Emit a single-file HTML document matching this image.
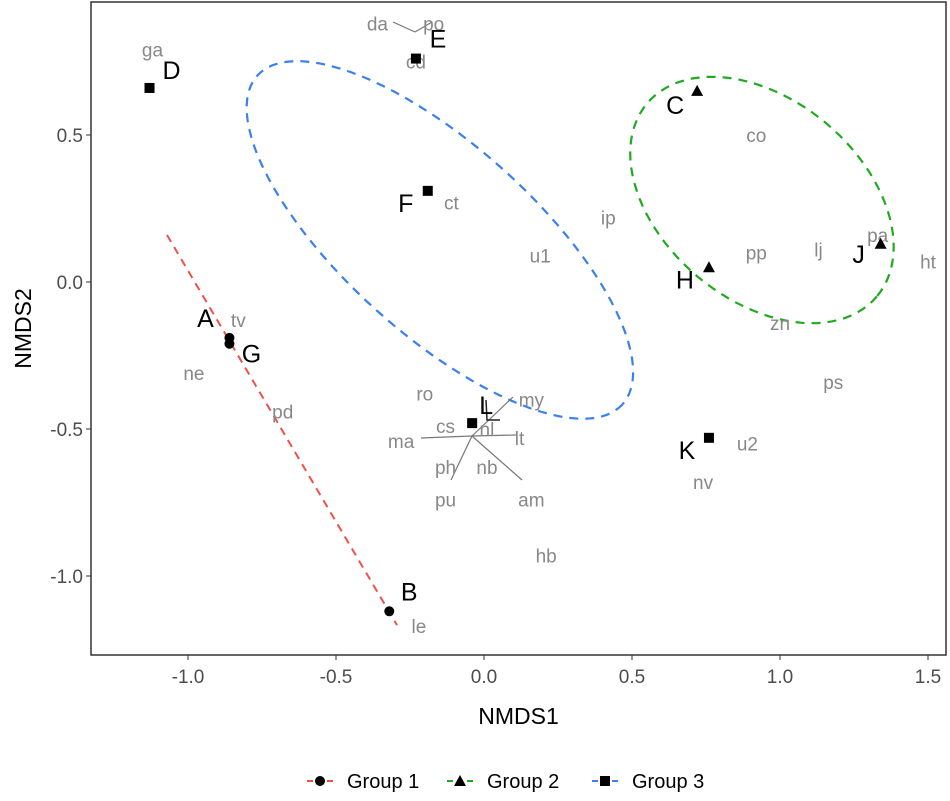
<!DOCTYPE html>
<html><head><meta charset="utf-8"><style>
body{margin:0;background:#fff;}
svg{display:block;font-family:"Liberation Sans",sans-serif;}
</style></head><body>
<svg id="chart" width="950" height="801"></svg>
<script>
const siteNames=["A","G","B","D","E","F","L","K","C","H","J"];
const siteX=[-0.86,-0.86,-0.32,-1.13,-0.23,-0.19,-0.04,0.76,0.72,0.76,1.34];
const siteY=[-0.19,-0.21,-1.12,0.66,0.76,0.31,-0.48,-0.53,0.65,0.05,0.13];
const siteGroup=[1,1,1,3,3,3,3,3,2,2,2];
const siteLabelDx=[-24,22,20,22,22,-22,14,-22,-22,-24,-22];
const siteLabelDy=[-4,26,-4,-2,-4,28,-2,28,30,28,26];
const speciesNames=["ga","da","po","cd","ct","ip","u1","co","pp","lj","pa","ht","zn","ps","u2","nv","hb","le","tv","ne","pd","ro","my","cs","nl","ma","lt","ph","nb","pu","am"];
const speciesX=[-1.12,-0.36,-0.17,-0.23,-0.11,0.42,0.19,0.92,0.92,1.13,1.33,1.50,1.00,1.18,0.89,0.74,0.21,-0.22,-0.83,-0.98,-0.68,-0.20,0.16,-0.13,0.01,-0.28,0.12,-0.13,0.01,-0.13,0.16];
const speciesY=[0.79,0.88,0.88,0.75,0.27,0.22,0.09,0.50,0.10,0.11,0.16,0.07,-0.14,-0.34,-0.55,-0.68,-0.93,-1.17,-0.13,-0.31,-0.44,-0.38,-0.40,-0.49,-0.50,-0.54,-0.53,-0.63,-0.63,-0.74,-0.74];
const groupNames=["Group 1","Group 2","Group 3"];
const xTicks=[-1.0,-0.5,0.0,0.5,1.0,1.5];
const yTicks=[0.5,0.0,-0.5,-1.0];
const redLineX=[-1.071,-0.294];
const redLineY=[0.16,-1.167];
const ellCx=[-0.149,0.939];
const ellCy=[0.143,0.279];
const ellA=[0.83,0.507];
const ellB=[0.32,0.338];
const ellAngle=[42,40];
const ellColor=["#3b7ff0","#1faa1f"];

const L=91,T=2,R=946,B=655;
const X=v=>484+v*296;
const Y=v=>282-v*294;
const svg=document.getElementById('chart');
const NS="http://www.w3.org/2000/svg";
function mk(tag,at,parent){const e=document.createElementNS(NS,tag);for(const k in at)e.setAttribute(k,at[k]);(parent||svg).appendChild(e);return e;}

let e=mk('rect',{x:L,y:T,width:R-L,height:B-T,fill:'#fff',stroke:'#333','stroke-width':1.5});



xTicks.forEach(t=>{
 let l=mk('line',{x1:X(t),x2:X(t),y1:B,y2:B+5,stroke:'#333'});
 
 
 let tx=mk('text',{x:X(t),y:B+28,'text-anchor':'middle','font-size':19,fill:'#4d4d4d'});
 tx.textContent=t.toFixed(1);
 
 
});
yTicks.forEach(t=>{
 let l=mk('line',{x1:L-5,x2:L,y1:Y(t),y2:Y(t),stroke:'#333'});
 
 
 let tx=mk('text',{x:L-8,y:Y(t)+7,'text-anchor':'end','font-size':19,fill:'#4d4d4d'});
 tx.textContent=t.toFixed(1);
 
 
});
e=mk('text',{x:(L+R)/2,y:724,'text-anchor':'middle','font-size':23,fill:'#000'});e.textContent='NMDS1';


e=mk('text',{x:31,y:(T+B)/2,'text-anchor':'middle','font-size':23,fill:'#000',transform:`rotate(-90 31 ${(T+B)/2})`});e.textContent='NMDS2';



e=mk('line',{x1:X(redLineX[0]),y1:Y(redLineY[0]),x2:X(redLineX[1]),y2:Y(redLineY[1]),stroke:'#f0504a','stroke-width':2,'stroke-dasharray':'8,6'});


for(let i=0;i<2;i++){
 const cx=X(ellCx[i]),cy=Y(ellCy[i]),a=ellA[i]*296,b=ellB[i]*296,ang=ellAngle[i]*Math.PI/180;
 let d='';
 for(let k=0;k<=100;k++){const t=k/100*2*Math.PI;
  const px=cx+a*Math.cos(t)*Math.cos(ang)-b*Math.sin(t)*Math.sin(ang);
  const py=cy+a*Math.cos(t)*Math.sin(ang)+b*Math.sin(t)*Math.cos(ang);
  d+=(k?'L':'M')+px.toFixed(1)+','+py.toFixed(1);}
 e=mk('path',{d:d,fill:'none',stroke:ellColor[i],'stroke-width':2.2,'stroke-dasharray':'9,7'});
 
 
}
const segs=[[415,32,393,22],[415,32,432,22],[472,436,421,438],[472,436,513,397],[472,436,516,435],[472,436,522,480],[472,436,451,480]];
segs.forEach(s=>{e=mk('line',{x1:s[0],y1:s[1],x2:s[2],y2:s[3],stroke:'#777','stroke-width':1.2});
 
 });
e=mk('polyline',{points:'486,400 487,420 500,420',fill:'none',stroke:'#222','stroke-width':1.5});



speciesNames.forEach((n,i)=>{
 let tx=mk('text',{x:X(speciesX[i]),y:Y(speciesY[i])+7,'text-anchor':'middle','font-size':19,fill:'#888'});
 tx.textContent=n;
 
 
});

function marker(g,x,y,parent){
 let m;
 if(g===1)m=mk('circle',{cx:x,cy:y,r:5,fill:'#000'},parent);
 else if(g===2)m=mk('polygon',{points:`${x},${y-6} ${x-6},${y+5} ${x+6},${y+5}`,fill:'#000'},parent);
 else m=mk('rect',{x:x-5,y:y-5,width:10,height:10,fill:'#000'},parent);
 return m;
}
siteNames.forEach((n,i)=>{
 const x=X(siteX[i]),y=Y(siteY[i]);
 let m=marker(siteGroup[i],x,y);
 
 
 let tx=mk('text',{x:x+siteLabelDx[i],y:y+siteLabelDy[i]-7,'text-anchor':'middle','font-size':25,fill:'#000'});
 tx.textContent=n;
 
 
});

const legX=[305,445,590];
const legColor=['#f0504a','#1faa1f','#3b7ff0'];
groupNames.forEach((n,i)=>{
 const g=mk('g',{});
 
 
 mk('line',{x1:legX[i]+2,x2:legX[i]+28,y1:781,y2:781,stroke:legColor[i],'stroke-width':2,'stroke-dasharray':'6,4'},g);
 marker(i+1,legX[i]+15,781,g);
 const t=mk('text',{x:legX[i]+42,y:788,'font-size':20,fill:'#000'},g);
 t.textContent=n;
});
</script>
</body></html>
